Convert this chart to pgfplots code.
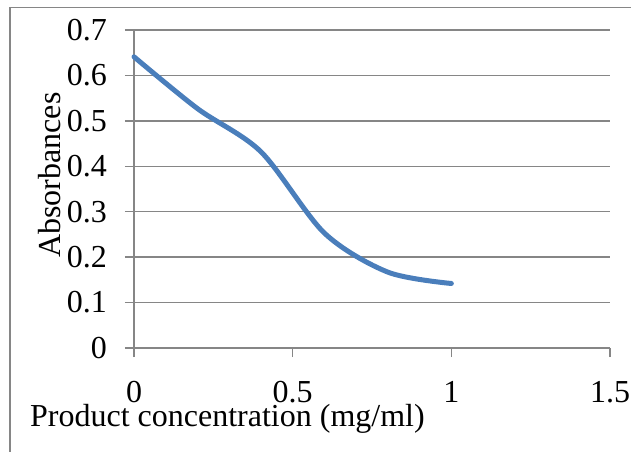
\documentclass[border=0pt]{standalone}
\usepackage{fontspec}
\setmainfont{Liberation Serif}
\usepackage{pgfplots}
\pgfplotsset{compat=1.18}
\definecolor{gridgray}{HTML}{868686}
\definecolor{xlblue}{HTML}{4A7EBB}
\newcommand{\bigfont}{\fontsize{32}{38}\selectfont}
\begin{document}
\begin{tikzpicture}[x=1pt,y=1pt]
\useasboundingbox (0,0) rectangle (631,451);
\draw[gridgray, line width=1.5pt] (10,-20) rectangle (660,443.5);
\begin{axis}[
  at={(134pt,103pt)}, anchor=south west,
  scale only axis, width=476pt, height=318pt,
  xmin=0, xmax=1.5, ymin=0, ymax=0.7,
  xtick={0,0.5,1,1.5}, ytick={0,0.1,...,0.7},
  axis x line=bottom, axis y line=left,
  axis line style={draw=gridgray, line width=1.5pt, -},
  ymajorgrids, grid style={draw=gridgray, line width=1.5pt},
  tick align=outside, major tick length=9pt,
  tick style={draw=gridgray, line width=1.5pt},
  /pgf/number format/assume math mode=true,
  ticklabel style={font=\bigfont},
  yticklabel style={anchor=east, inner sep=0pt, xshift=-18pt},
  xticklabel style={anchor=base, inner sep=0pt, yshift=-45pt},
  yticklabels={0,0.1,0.2,0.3,0.4,0.5,0.6,0.7},
  xticklabels={0,0.5,1,1.5},
  xlabel={Product concentration (mg/ml)},
  ylabel={Absorbances},
  xlabel style={font=\bigfont, at={(axis description cs:-0.2185,-0.2484)}, anchor=base west, inner sep=0pt},
  ylabel style={font=\bigfont, at={(axis description cs:-0.155,0.544)}, anchor=base, inner sep=0pt},
  clip=false,
]
\addplot[xlblue, line width=5pt, smooth, tension=0.5, line cap=round] coordinates {
(0,0.641) (0.2,0.527) (0.4,0.432) (0.6,0.253) (0.8,0.167) (1.0,0.142)
};
\end{axis}
\end{tikzpicture}
\end{document}
